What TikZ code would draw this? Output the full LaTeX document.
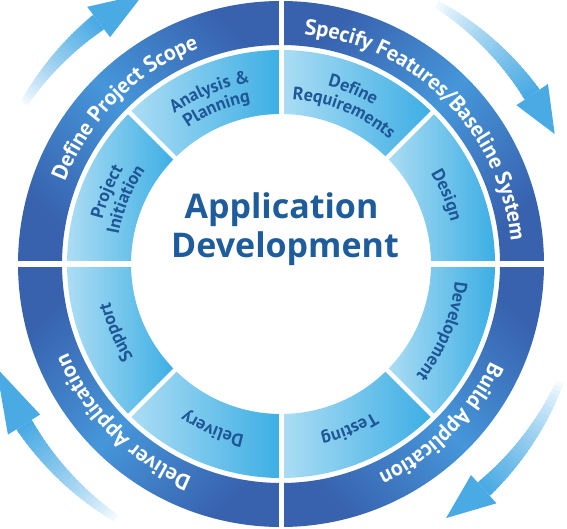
\documentclass[tikz,border=0pt]{standalone}
\usepackage{fontspec}
\setmainfont{PT Sans}
\newfontfamily\titlefont{Open Sans}
\usetikzlibrary{decorations.text}
\definecolor{odark}{RGB}{56,98,174}
\definecolor{olight}{RGB}{70,150,218}
\definecolor{ilight}{RGB}{172,221,244}
\definecolor{idark}{RGB}{60,174,228}
\definecolor{arrowc}{RGB}{74,170,228}
\definecolor{ctext}{RGB}{31,92,155}
\definecolor{itextc}{RGB}{30,86,150}
\newcommand\otxt{\color{white}\fontsize{22}{22}\selectfont\bfseries}
\newcommand\itxt{\color{itextc}\fontsize{18}{18}\selectfont\bfseries}
\newcommand\arclabel[3]{%
  \path[decorate, decoration={text along path, text align=center, text={|\itxt|#3}}]
    (#1+22:#2) arc[start angle=#1+22, end angle=#1-22, radius=#2];}
\newcommand\outerlabel[2]{%
  \path[decorate, decoration={text along path, text align=center, text={|\otxt|#2}}]
    (#1+44.5:231) arc[start angle=#1+44.5, end angle=#1-44.5, radius=231];}
\newcommand\cyclearrow[3]{%
  \foreach \i in {0,...,29}{%
    \pgfmathsetmacro\aa{#1+(#2-#1)*\i/30}%
    \pgfmathsetmacro\bb{#1+(#2-#1)*min(\i+1.4,30)/30}%
    \pgfmathsetmacro\pp{100*((\i+1)/30)^0.8}%
    \pgfmathsetmacro\ww{8+10*\i/29}%
    \draw[draw=arrowc!\pp!white, line width=\ww pt] (\aa:303) arc[start angle=\aa, end angle=\bb, radius=303];
  }%
  \fill[arrowc] (#2:284) -- (#3:303) -- (#2:322) -- cycle;}
\tikzset{ctitle/.style={font=\titlefont\fontsize{34}{34}\selectfont\bfseries, text=ctext, inner sep=0pt, anchor=base}}
\begin{document}
\begin{tikzpicture}[x=1pt,y=1pt]
\useasboundingbox (0,0) rectangle (567,528);
\clip (0,0) rectangle (567,528);
\begin{scope}[shift={(281,264)}]
% curved arrows
\cyclearrow{148}{127}{117}
\cyclearrow{59}{34}{25.4}
\cyclearrow{-23}{-48}{-57}
\cyclearrow{237}{212}{200}
% outer ring quadrants
\foreach \s/\sa in {90/135, 0/45, -90/135, 180/45}{
  \shade[top color=odark, bottom color=odark, middle color=olight, shading angle=\sa]
    (\s+90:263) arc[start angle=\s+90, end angle=\s, radius=263] -- (\s:219)
    arc[start angle=\s, end angle=\s+90, radius=219] -- cycle;
}
% inner ring segments
\foreach \k in {0,...,7}{
  \pgfmathsetmacro\s{\k*45}\pgfmathsetmacro\e{\k*45+45}
  \shade[left color=ilight, right color=idark]
    (\s:214) arc[start angle=\s, end angle=\e, radius=214] -- (\e:150)
    arc[start angle=\e, end angle=\s, radius=150] -- cycle;
}
% dividers
\foreach \a in {0,90,180,270} \draw[white, line width=5pt] (\a:140) -- (\a:270);
\foreach \a in {45,135,225,315} \draw[white, line width=4.5pt] (\a:140) -- (\a:216);
% outer labels (clockwise, tops outward)
\outerlabel{135}{Define Project Scope}
\outerlabel{45}{Specify Features/Baseline System}
\outerlabel{-45}{Build Application}
\outerlabel{225}{Deliver Application}
% inner labels
\arclabel{112.5}{184}{Analysis {\&}}
\arclabel{112.5}{165}{Planning}
\arclabel{157.5}{184}{Project}
\arclabel{157.5}{165}{Initiation}
\arclabel{67.5}{184}{Define}
\arclabel{67.5}{165}{Requirements}
\arclabel{22.5}{175}{Design}
\arclabel{-22.5}{175}{Development}
\arclabel{-67.5}{175}{Testing}
\arclabel{-112.5}{175}{Delivery}
\arclabel{-157.5}{175}{Support}
% centre title
\node[ctitle] (t1) at (0.5,45) {Application};
\node[ctitle] (t2) at (4,6) {Development};
\end{scope}
\end{tikzpicture}
\end{document}
